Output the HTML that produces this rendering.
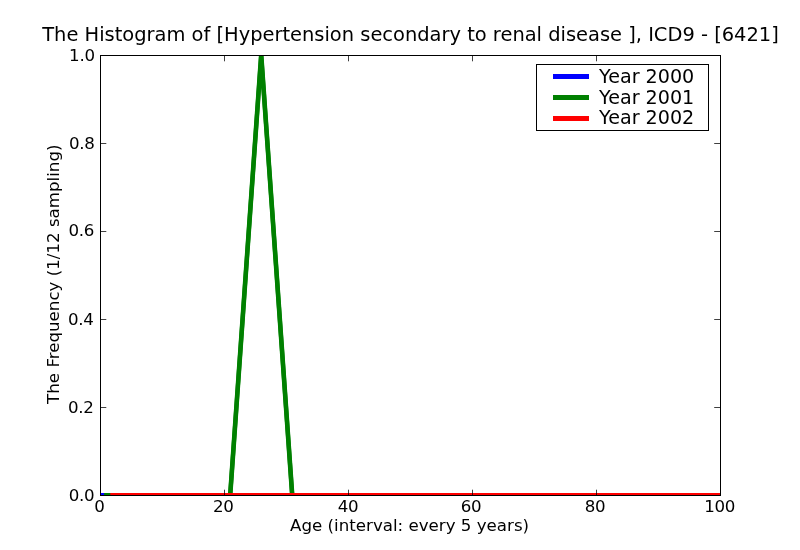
<!DOCTYPE html>
<html><head><meta charset="utf-8"><title>Histogram</title>
<style>
html,body{margin:0;padding:0;background:#fff;}
body{width:800px;height:550px;overflow:hidden;}
svg{display:block;will-change:transform;}
text{font-family:"DejaVu Sans","Liberation Sans",sans-serif;fill:#000;}
.tk{font-size:16.67px;}
.tl{font-size:16.67px;letter-spacing:-0.3px;}
.lg{font-size:19.12px;}
</style></head><body>
<svg width="800" height="550" viewBox="0 0 800 550">
<rect x="0" y="0" width="800" height="550" fill="#fff"/>
<defs><clipPath id="ax"><rect x="100" y="55" width="620" height="440"/></clipPath></defs>
<g clip-path="url(#ax)" fill="none" stroke-linejoin="round">
<polyline stroke="#0000ff" stroke-width="4.2" stroke-linecap="square" points="100,495 720,495"/>
<polyline stroke="#008000" stroke-width="4.2" stroke-linecap="square" points="106.2,495 230.2,495 261.2,55 292.2,495 695.2,495"/>
<polyline stroke="#008000" stroke-width="4.6" stroke-linecap="butt" points="225.2,566 230.2,495 261.2,55 292.2,495 297.2,566"/>
<polyline stroke="#ff0000" stroke-width="4.2" stroke-linecap="square" points="112.4,495 720,495"/>
</g>
<g stroke="#000" stroke-width="1" fill="none">
<rect x="100.5" y="55.5" width="620" height="440"/>
<path stroke-width="0.75" d="M100.5 495V489.7 M224.5 495V489.7 M348.5 495V489.7 M472.5 495V489.7 M596.5 495V489.7 M720.5 495V489.7 M100.5 56V61.3 M224.5 56V61.3 M348.5 56V61.3 M472.5 56V61.3 M596.5 56V61.3 M720.5 56V61.3 M101 495.5H106.3 M101 407.5H106.3 M101 319.5H106.3 M101 231.5H106.3 M101 143.5H106.3 M101 55.5H106.3 M720 495.5H714.2 M720 407.5H714.2 M720 319.5H714.2 M720 231.5H714.2 M720 143.5H714.2 M720 55.5H714.2"/>
</g>
<g class="tl" text-anchor="end">
<text x="94.7" y="61">1.0</text>
<text x="94.5" y="149">0.8</text>
<text x="94.1" y="236">0.6</text>
<text x="93.5" y="325">0.4</text>
<text x="93.5" y="413">0.2</text>
<text x="94.3" y="501">0.0</text>
</g>
<g class="tl" text-anchor="middle">
<text x="99.4" y="512">0</text>
<text x="223.2" y="512">20</text>
<text x="348.1" y="512">40</text>
<text x="471" y="512">60</text>
<text x="595" y="512">80</text>
<text x="719.6" y="512">100</text>
</g>
<text x="410.5" y="41" text-anchor="middle" style="font-size:19.45px">The Histogram of [Hypertension secondary to renal disease ], ICD9 - [6421]</text>
<text x="409.6" y="531" text-anchor="middle" class="tk">Age (interval: every 5 years)</text>
<text transform="translate(59,274.2) rotate(-90)" text-anchor="middle" class="tk">The Frequency (1/12 sampling)</text>
<rect x="536.5" y="64.5" width="172" height="66" fill="#fff" stroke="#000" stroke-width="1"/>
<g stroke-width="5">
<line x1="553" y1="76.5" x2="589" y2="76.5" stroke="#0000ff"/>
<line x1="553" y1="97.5" x2="589" y2="97.5" stroke="#008000"/>
<line x1="553" y1="118.5" x2="589" y2="118.5" stroke="#ff0000"/>
</g>
<g class="lg">
<text x="599.1" y="83">Year 2000</text>
<text x="599.1" y="104">Year 2001</text>
<text x="599.1" y="124">Year 2002</text>
</g>
</svg>
</body></html>
